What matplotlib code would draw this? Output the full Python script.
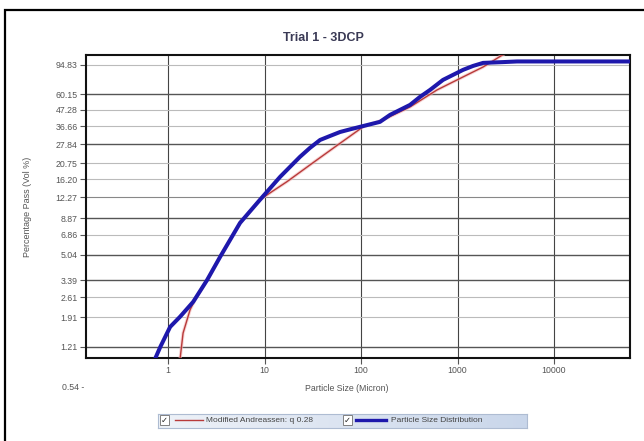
import numpy as np
import matplotlib
matplotlib.use("Agg")
import matplotlib.pyplot as plt
from matplotlib.patches import Rectangle
from matplotlib.lines import Line2D
from matplotlib.colors import LinearSegmentedColormap
from matplotlib.ticker import NullLocator, FixedLocator, FixedFormatter

plt.rcParams["font.family"] = ["Liberation Sans", "DejaVu Sans"]

# particle size distribution (blue)
psd_size = [0.72, 0.83, 1.05, 1.33, 1.82, 2.54, 3.46, 5.57, 8.98, 14.5, 23.3, 29.6, 37.6,
            47.7, 60.6, 76.9, 97.7, 157, 200, 322, 408, 519, 707, 1140, 1448, 1840, 2950,
            4140, 61300]
psd_pass = [0.98, 1.21, 1.65, 1.93, 2.43, 3.41, 4.87, 8.24, 11.8, 16.8, 22.9, 26.3, 29.7,
            31.6, 33.6, 35.0, 36.4, 39.3, 43.8, 51.1, 57.8, 64.4, 75.2, 87.8, 93.3, 97.8, 99.0,
            100, 100]

# modified andreassen fit (red)
ma_size = [1.33, 1.43, 1.69, 1.90, 2.54, 3.46, 5.57, 8.98, 12.0, 17.1, 31.8, 56.4, 105,
           169, 322, 613, 1140, 1840, 2950]
ma_pass = [1.0, 1.50, 2.15, 2.51, 3.41, 4.87, 8.24, 11.8, 13.4, 15.6, 20.9, 27.3, 36.4,
           40.5, 49.5, 64.4, 78.7, 91.8, 111]

y_ticks = [94.83, 60.15, 47.28, 36.66, 27.84, 20.75, 16.20, 12.27, 8.87, 6.86,
           5.04, 3.39, 2.61, 1.91, 1.21]
y_dark = [60.15, 27.84, 8.87, 5.04, 3.39, 1.21]
x_ticks = [1, 10, 100, 1000, 10000]

W, H = 644, 441


def fx(px):
    return px / W


def fy(py):
    return 1 - py / H


fig = plt.figure(figsize=(6.44, 4.41), dpi=100)
fig.patch.set_facecolor("white")

# outer frame
fig.add_artist(Rectangle((fx(5), fy(460)), 1.2, fy(10) - fy(460), transform=fig.transFigure,
                         fill=False, edgecolor="black", linewidth=1.6))

ax = fig.add_axes([fx(86), fy(358), fx(630) - fx(86), fy(55) - fy(358)])
ax.set_xscale("log")
ax.set_yscale("log")
ax.set_xlim(0.141, 61300)
ax.set_ylim(1.02, 110.5)

ax.plot(ma_size, ma_pass, color="#f2b8b8", lw=2.4, alpha=0.6, zorder=3)
ax.plot(ma_size, ma_pass, color="#b83a3a", lw=1.0, zorder=4)
ax.plot(psd_size, psd_pass, color="#1e18ac", lw=2.9, zorder=5, solid_joinstyle="round")

ax.xaxis.set_major_locator(FixedLocator(x_ticks))
ax.xaxis.set_major_formatter(FixedFormatter([str(v) for v in x_ticks]))
ax.xaxis.set_minor_locator(NullLocator())
ax.yaxis.set_major_locator(FixedLocator(y_ticks))
ax.yaxis.set_major_formatter(FixedFormatter(["%.2f" % v for v in y_ticks]))
ax.yaxis.set_minor_locator(NullLocator())

ax.tick_params(axis="both", labelsize=6.3, colors="#555555", length=4, width=0.8, pad=2)
ax.grid(True, which="major", axis="x", color="#444444", lw=0.8)
ax.grid(True, which="major", axis="y", color="#bbbbbb", lw=0.8)
for v, gl in zip(y_ticks, ax.get_ygridlines()):
    if v in y_dark:
        gl.set_color("#555555")
        gl.set_linewidth(1.0)
    elif v == 12.27:
        gl.set_color("#888888")
ax.set_axisbelow(True)
for s in ax.spines.values():
    s.set_color("#111111")
    s.set_linewidth(1.5)

ax.set_xlabel("Particle Size (Micron)", fontsize=6.3, color="#555555")
ax.xaxis.set_label_coords((347 - 86) / 544, -0.085)
fig.text(fx(27), fy(207), "Percentage Pass (Vol %)", rotation=90, fontsize=6.5,
         color="#555555", ha="center", va="center")
fig.text(fx(84), fy(388), "0.54 -", fontsize=6.3, color="#555555", ha="right", va="center")
fig.text(fx(323), fy(38), "Trial 1 - 3DCP", fontsize=9, fontweight="bold",
         color="#3a3a55", ha="center", va="center")

# legend strip
lax = fig.add_axes([fx(158), fy(428), fx(527) - fx(158), fy(414) - fy(428)])
grad = np.linspace(0, 1, 256).reshape(1, -1)
lax.imshow(grad, aspect="auto", cmap=LinearSegmentedColormap.from_list("g", ["#eef2f8", "#c9d6ea"]))
lax.set_xticks([])
lax.set_yticks([])
for s in lax.spines.values():
    s.set_color("#aebcd2")
    s.set_linewidth(0.8)

for cx in [160, 343]:
    fig.add_artist(Rectangle((fx(cx), fy(425)), fx(9), fy(415) - fy(425), transform=fig.transFigure,
                             facecolor="white", edgecolor="#808080", linewidth=0.7))
    fig.text(fx(cx + 4.5), fy(420), "\u2713", fontsize=6, color="#222222", ha="center",
             va="center", family="DejaVu Sans")
fig.add_artist(Line2D([fx(175), fx(203)], [fy(420), fy(420)], color="#b83a3a", lw=1.0,
                      transform=fig.transFigure))
fig.add_artist(Line2D([fx(356), fx(386)], [fy(420), fy(420)], color="#1e18ac", lw=2.4,
                      transform=fig.transFigure))
fig.text(fx(206), fy(420), "Modified Andreassen: q 0.28", fontsize=6, color="#444444", va="center")
fig.text(fx(391), fy(420), "Particle Size Distribution", fontsize=6, color="#444444", va="center")

fig.savefig("out.png", dpi=100)
